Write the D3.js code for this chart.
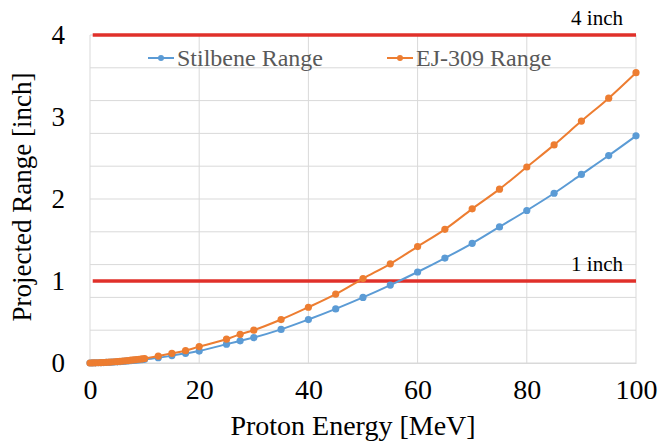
<!DOCTYPE html>
<html>
<head>
<meta charset="utf-8">
<script src="https://cdn.jsdelivr.net/npm/d3@7"></script>
<style>
  body { margin: 0; background: #fff; }
  text { font-family: "Liberation Serif", "Times New Roman", serif; }
</style>
</head>
<body>
<svg id="drawing_region"></svg>
<script>
// proton energy [MeV]
const energy = [0, 0.5, 1, 1.5, 2, 2.5, 3, 3.5, 4, 4.5, 5, 5.5, 6, 6.5, 7, 7.5, 8, 8.5, 9, 9.5, 10,
  12.5, 15, 17.5, 20, 25, 27.5, 30, 35, 40, 45, 50, 55, 60, 65, 70, 75, 80, 85, 90, 95, 100];

// projected range [inch]
const stilbene = [0, 0.001, 0.002, 0.003, 0.004, 0.005, 0.007, 0.008, 0.010, 0.012, 0.014, 0.016, 0.019, 0.022, 0.025, 0.028, 0.031, 0.034, 0.038, 0.041, 0.045,
  0.065, 0.09, 0.118, 0.146, 0.23, 0.27, 0.31, 0.41, 0.53, 0.66, 0.80, 0.95, 1.11, 1.28, 1.46, 1.66, 1.86, 2.07, 2.30, 2.53, 2.77];
const ej309 = [0, 0.001, 0.002, 0.003, 0.004, 0.006, 0.008, 0.010, 0.012, 0.015, 0.017, 0.020, 0.023, 0.027, 0.030, 0.034, 0.038, 0.042, 0.046, 0.050, 0.055,
  0.085, 0.118, 0.15, 0.20, 0.29, 0.35, 0.40, 0.53, 0.68, 0.84, 1.03, 1.21, 1.42, 1.63, 1.88, 2.12, 2.39, 2.66, 2.95, 3.23, 3.54];

const xTicks = [0, 20, 40, 60, 80, 100];
const yTicks = [0, 1, 2, 3, 4];
const yGrid = [0, 0.4, 0.8, 1.2, 1.6, 2.0, 2.4, 2.8, 3.2, 3.6, 4.0];
const refLines = [{ value: 4, label: "4 inch" }, { value: 1, label: "1 inch" }];

const series = [
  { name: "Stilbene Range", values: stilbene, color: "#5B9BD5" },
  { name: "EJ-309 Range", values: ej309, color: "#ED7D31" }
];

const width = 660, height = 441;

const svg = d3.select("#drawing_region")
  .attr("width", width)
  .attr("height", height);

const x = d3.scaleLinear().domain([0, 100]).range([90, 636]);
const y = d3.scaleLinear().domain([0, 4]).range([363, 35]);

// grid
svg.append("g")
  .selectAll("line")
  .data(yGrid)
  .join("line")
  .attr("x1", x(0)).attr("x2", x(100))
  .attr("y1", d => y(d)).attr("y2", d => y(d))
  .attr("stroke", "#D9D9D9")
  .attr("stroke-width", 1);

svg.append("g")
  .selectAll("line")
  .data(xTicks)
  .join("line")
  .attr("x1", d => x(d)).attr("x2", d => x(d))
  .attr("y1", y(0)).attr("y2", y(4))
  .attr("stroke", "#D9D9D9")
  .attr("stroke-width", 1);

// axes labels
const xAxis = svg.append("g")
  .attr("transform", `translate(0, ${y(0)})`)
  .call(d3.axisBottom(x).tickValues(xTicks).tickSize(0).tickPadding(16));
xAxis.select(".domain").attr("stroke", "#D9D9D9");
xAxis.selectAll("text")
  .attr("font-size", 28)
  .attr("fill", "#000")
  .style("font-family", "Liberation Serif");

const yAxis = svg.append("g")
  .attr("transform", `translate(${x(0)}, 0)`)
  .call(d3.axisLeft(y).tickValues(yTicks).tickFormat(d3.format("d")).tickSize(0).tickPadding(25));
yAxis.select(".domain").remove();
yAxis.selectAll("text")
  .attr("font-size", 27)
  .attr("fill", "#000")
  .style("font-family", "Liberation Serif");

svg.append("text")
  .attr("x", x(50) - 10)
  .attr("y", 435)
  .attr("text-anchor", "middle")
  .attr("font-size", 28)
  .text("Proton Energy [MeV]");

svg.append("text")
  .attr("transform", `translate(31, ${y(2) - 2}) rotate(-90)`)
  .attr("text-anchor", "middle")
  .attr("font-size", 27)
  .text("Projected Range [inch]");

// reference lines
svg.append("g")
  .selectAll("line")
  .data(refLines)
  .join("line")
  .attr("x1", x(0.5)).attr("x2", x(100))
  .attr("y1", d => y(d.value)).attr("y2", d => y(d.value))
  .attr("stroke", "#E0302A")
  .attr("stroke-width", 3.5);

svg.append("g")
  .selectAll("text")
  .data(refLines)
  .join("text")
  .attr("x", 623)
  .attr("y", d => y(d.value) - 10)
  .attr("text-anchor", "end")
  .attr("font-size", 21)
  .text(d => d.label);

// series
const line = d3.line()
  .x((d, i) => x(energy[i]))
  .y(d => y(d))
  .curve(d3.curveCatmullRom);

series.forEach(s => {
  const g = svg.append("g");
  g.append("path")
    .attr("d", line(s.values))
    .attr("fill", "none")
    .attr("stroke", s.color)
    .attr("stroke-width", 2);
  g.selectAll("circle")
    .data(s.values)
    .join("circle")
    .attr("cx", (d, i) => x(energy[i]))
    .attr("cy", d => y(d))
    .attr("r", 3.6)
    .attr("fill", s.color);
});

// legend
const legendX = [148, 387];
const legend = svg.append("g")
  .selectAll("g")
  .data(series)
  .join("g")
  .attr("transform", (d, i) => `translate(${legendX[i]}, 58)`);
legend.append("line")
  .attr("x1", 0).attr("x2", 26)
  .attr("stroke", d => d.color)
  .attr("stroke-width", 2);
legend.append("circle")
  .attr("cx", 13).attr("r", 3)
  .attr("fill", d => d.color);
legend.append("text")
  .attr("x", 29)
  .attr("y", 8)
  .attr("font-size", 24)
  .attr("fill", "#595959")
  .text(d => d.name);
</script>
</body>
</html>
